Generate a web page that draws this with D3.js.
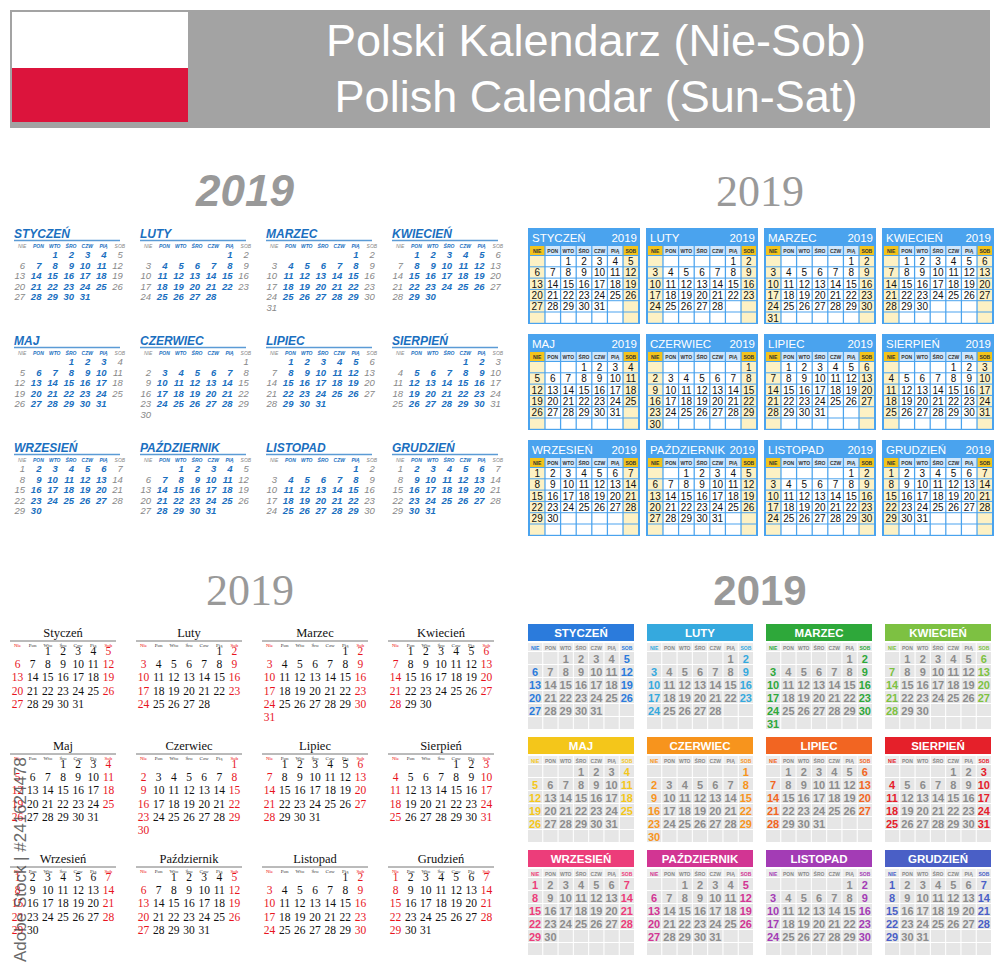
<!DOCTYPE html>
<html><head><meta charset="utf-8">
<script src="https://cdn.jsdelivr.net/npm/d3@7"></script>
<style>body{margin:0;background:#fff}</style></head>
<body><svg id="c" width="1000" height="966"></svg>
<script>
const year = 2019;
const monthsUpper = ["STYCZEŃ","LUTY","MARZEC","KWIECIEŃ","MAJ","CZERWIEC","LIPIEC","SIERPIEŃ","WRZESIEŃ","PAŹDZIERNIK","LISTOPAD","GRUDZIEŃ"];
const monthsTitle = ["Styczeń","Luty","Marzec","Kwiecień","Maj","Czerwiec","Lipiec","Sierpień","Wrzesień","Październik","Listopad","Grudzień"];
const daysInMonth = [31,28,31,30,31,30,31,31,30,31,30,31];
const firstWeekday = [2,5,5,1,3,6,1,4,0,2,5,0]; // 0 = Sunday
const weekdaysUpper = ["NIE","PON","WTO","ŚRO","CZW","PIĄ","SOB"];
const weekdaysTitle = ["Nie","Pon","Wto","Śro","Czw","Pią","Sob"];
const monthColors = ["#2b7bdc","#35a9de","#2ea83a","#7dc142","#f4c61a","#f7941d","#f26522","#e5202a","#ec3d7a","#d23593","#a33cb5","#4a5fc6"];
const titleLines = ["Polski Kalendarz (Nie-Sob)","Polish Calendar (Sun-Sat)"];

const svg = d3.select("#c");
// header
svg.append("rect").attr("x",10).attr("y",10).attr("width",980).attr("height",118).attr("fill","#a3a3a3");
svg.append("rect").attr("x",12).attr("y",12).attr("width",176).attr("height",56).attr("fill","#fff");
svg.append("rect").attr("x",12).attr("y",68).attr("width",176).attr("height",54).attr("fill","#dc143c");
svg.selectAll(".tl").data(titleLines).join("text").attr("x",596).attr("y",(d,i)=>56+i*56)
 .attr("text-anchor","middle").attr("fill","#fff").attr("font-family","Liberation Sans, Arial").attr("font-size",45).text(d=>d);

function cells(m){const a=[];for(let d=1;d<=daysInMonth[m];d++){const p=firstWeekday[m]+d-1;a.push({d,col:p%7,row:Math.floor(p/7)});}return a;}
const months = d3.range(12);

// ---------- Q1 ----------
svg.append("text").attr("x",245).attr("y",206).attr("text-anchor","middle").attr("font-family","Liberation Sans, Arial")
 .attr("font-weight","bold").attr("font-style","italic").attr("font-size",44).attr("fill","#999").text(year);
months.forEach(m=>{
  const x0=12+126*(m%4), y0=234+107*Math.floor(m/4);
  const g=svg.append("g").attr("transform",`translate(${x0},${y0})`);
  const xs=d3.scaleBand().domain(d3.range(7)).range([2,116]);
  const ys=d3.scaleLinear().domain([0,1]).range([24,34.5]);
  g.append("text").attr("x",2).attr("y",4).attr("font-family","Liberation Sans, Arial").attr("font-weight","bold").attr("font-style","italic")
   .attr("font-size",12).attr("fill","#1a6fc0").text(monthsUpper[m]);
  g.append("line").attr("x1",2).attr("x2",108).attr("y1",6.5).attr("y2",6.5).attr("stroke","#5b9bd5").attr("stroke-width",1.5);
  g.selectAll(".w").data(weekdaysUpper).join("text").attr("x",(d,i)=>xs(i)+xs.bandwidth()/2).attr("y",14).attr("text-anchor","middle")
   .attr("font-family","Liberation Sans, Arial").attr("font-style","italic").attr("font-weight",(d,i)=>i%6?"bold":"normal").attr("font-size",5).attr("fill",(d,i)=>i%6?"#1a6fc0":"#888").text(d=>d);
  g.selectAll(".d").data(cells(m)).join("text").attr("x",d=>xs(d.col)+xs.bandwidth()/2+3).attr("y",d=>ys(d.row)).attr("text-anchor","end")
   .attr("font-family","Liberation Sans, Arial").attr("font-style","italic").attr("font-weight",d=>d.col%6?"bold":"normal").attr("font-size",9.5)
   .attr("fill",d=>d.col%6?"#1a6fc0":"#888").text(d=>d.d);
});

// ---------- Q2 ----------
svg.append("text").attr("x",760).attr("y",206).attr("text-anchor","middle").attr("font-family","Liberation Serif, Times New Roman")
 .attr("font-size",44).attr("fill","#999").text(year);
months.forEach(m=>{
  const x0=528+118*(m%4), y0=228+106*Math.floor(m/4);
  const g=svg.append("g").attr("transform",`translate(${x0},${y0})`);
  const W=112, xs=d3.scaleBand().domain(d3.range(7)).range([2,W-2]).paddingInner(0.08);
  const ys=d3.scaleLinear().domain([0,1]).range([28,39.3]);
  g.append("rect").attr("width",W).attr("height",96).attr("fill","#4aa3ee");
  g.append("text").attr("x",4).attr("y",14).attr("fill","#fff").attr("font-family","Liberation Sans, Arial").attr("font-size",11.5).text(monthsUpper[m]);
  g.append("text").attr("x",W-3).attr("y",14).attr("text-anchor","end").attr("fill","#fff").attr("font-family","Liberation Sans, Arial").attr("font-size",11.5).text(year);
  g.selectAll(".wb").data(weekdaysUpper).join("rect").attr("x",(d,i)=>xs(i)).attr("y",18).attr("width",xs.bandwidth()).attr("height",9)
   .attr("fill",(d,i)=>i%6?"#cfe6fb":"#f3c31c");
  g.selectAll(".w").data(weekdaysUpper).join("text").attr("x",(d,i)=>xs(i)+xs.bandwidth()/2).attr("y",25).attr("text-anchor","middle")
   .attr("font-family","Liberation Sans, Arial").attr("font-weight","bold").attr("font-size",5).attr("fill","#333").text(d=>d);
  const grid=[];for(let r=0;r<6;r++)for(let c=0;c<7;c++)grid.push({r,c});
  g.selectAll(".cb").data(grid).join("rect").attr("x",d=>xs(d.c)).attr("y",d=>ys(d.r)).attr("width",xs.bandwidth()).attr("height",10.3)
   .attr("fill",d=>d.c%6?"#fff":"#fdf1c4");
  g.selectAll(".d").data(cells(m)).join("text").attr("x",d=>xs(d.col)+xs.bandwidth()/2).attr("y",d=>ys(d.row)+9).attr("text-anchor","middle")
   .attr("font-family","Liberation Sans, Arial").attr("font-size",10).attr("fill","#111").text(d=>d.d);
});

// ---------- Q3 ----------
svg.append("text").attr("x",250).attr("y",605).attr("text-anchor","middle").attr("font-family","Liberation Serif, Times New Roman")
 .attr("font-size",44).attr("fill","#999").text(year);
months.forEach(m=>{
  const x0=10+126*(m%4), y0=633+113*Math.floor(m/4);
  const g=svg.append("g").attr("transform",`translate(${x0},${y0})`);
  const xs=d3.scaleBand().domain(d3.range(7)).range([0,106]);
  const ys=d3.scaleLinear().domain([0,1]).range([22,35.2]);
  g.append("text").attr("x",53).attr("y",4).attr("text-anchor","middle").attr("font-family","Liberation Serif, Times New Roman").attr("font-size",12.5).attr("fill","#111").text(monthsTitle[m]);
  g.append("line").attr("x1",0).attr("x2",106).attr("y1",8).attr("y2",8).attr("stroke","#777").attr("stroke-width",1);
  g.selectAll(".w").data(weekdaysTitle).join("text").attr("x",(d,i)=>xs(i)+xs.bandwidth()/2).attr("y",14).attr("text-anchor","middle")
   .attr("font-family","Liberation Serif, Times New Roman").attr("font-size",5).attr("fill",(d,i)=>i%6?"#333":"#e00").text(d=>d);
  g.selectAll(".d").data(cells(m)).join("text").attr("x",d=>xs(d.col)+xs.bandwidth()/2).attr("y",d=>ys(d.row)).attr("text-anchor","middle")
   .attr("font-family","Liberation Serif, Times New Roman").attr("font-size",11.5).attr("fill",d=>d.col%6?"#111":"#e8141e").text(d=>d.d);
});

// ---------- Q4 ----------
svg.append("text").attr("x",760).attr("y",605).attr("text-anchor","middle").attr("font-family","Liberation Sans, Arial")
 .attr("font-weight","bold").attr("font-size",42).attr("fill","#999").text(year);
months.forEach(m=>{
  const x0=528+119*(m%4), y0=624+113*Math.floor(m/4);
  const g=svg.append("g").attr("transform",`translate(${x0},${y0})`);
  const W=106, xs=d3.scaleBand().domain(d3.range(7)).range([0,W]).paddingInner(0.07);
  const ys=d3.scaleLinear().domain([0,1]).range([28,41]);
  g.append("rect").attr("width",W).attr("height",17).attr("fill",monthColors[m]);
  g.append("text").attr("x",W/2).attr("y",13).attr("text-anchor","middle").attr("fill","#fff").attr("font-family","Liberation Sans, Arial").attr("font-weight","bold").attr("font-size",11.5).text(monthsUpper[m]);
  g.selectAll(".wb").data(weekdaysUpper).join("rect").attr("x",(d,i)=>xs(i)).attr("y",19).attr("width",xs.bandwidth()).attr("height",8).attr("fill","#ececec");
  g.selectAll(".w").data(weekdaysUpper).join("text").attr("x",(d,i)=>xs(i)+xs.bandwidth()/2).attr("y",25.5).attr("text-anchor","middle")
   .attr("font-family","Liberation Sans, Arial").attr("font-weight","bold").attr("font-size",5).attr("fill",(d,i)=>i%6?"#888":monthColors[m]).text(d=>d);
  const grid=[];for(let r=0;r<6;r++)for(let c=0;c<7;c++)grid.push({r,c});
  g.selectAll(".cb").data(grid).join("rect").attr("x",d=>xs(d.c)).attr("y",d=>ys(d.r)).attr("width",xs.bandwidth()).attr("height",12).attr("fill","#e6e6e6");
  g.selectAll(".d").data(cells(m)).join("text").attr("x",d=>xs(d.col)+xs.bandwidth()/2).attr("y",d=>ys(d.row)+10.5).attr("text-anchor","middle")
   .attr("font-family","Liberation Sans, Arial").attr("font-weight","bold").attr("font-size",11).attr("fill",d=>d.col%6?"#8c8c8c":monthColors[m]).text(d=>d.d);
});

// stock id text at left edge
svg.append("text").attr("transform","translate(26,962) rotate(-90)").attr("font-family","Liberation Sans, Arial").attr("font-size",17)
 .attr("fill","#444").attr("opacity",0.8).text("Adobe Stock | #241624478");
</script></body></html>
